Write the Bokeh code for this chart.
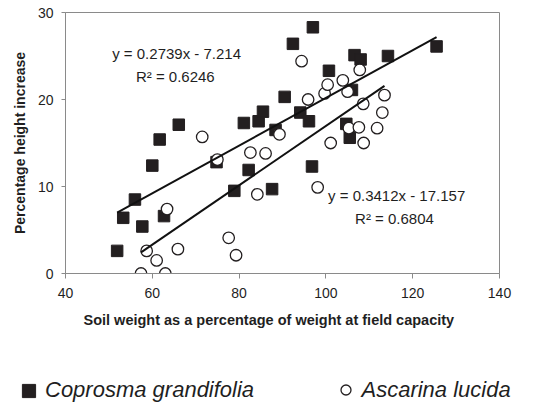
from bokeh.plotting import figure
from bokeh.models import Range1d, Label, Legend, LegendItem, FixedTicker, Title
from bokeh.embed import file_html
from bokeh.resources import INLINE

# ---- data ----
cop_x = [51.9, 53.3, 56.0, 57.7, 60.0, 61.7, 62.7, 66.1, 74.8, 78.9,
         81.1, 82.2, 84.5, 85.5, 87.6, 88.4, 90.5, 92.4, 94.1, 96.1,
         96.8, 97.0, 100.7, 104.7, 105.5, 106.0, 106.6, 108.0, 114.3, 125.5]
cop_y = [2.6, 6.4, 8.5, 5.4, 12.4, 15.4, 6.6, 17.1, 12.8, 9.5,
         17.3, 11.9, 17.5, 18.6, 9.7, 16.5, 20.3, 26.4, 18.5, 17.5,
         12.3, 28.3, 23.3, 17.2, 15.6, 21.1, 25.1, 24.6, 25.0, 26.1]

asc_x = [57.4, 58.7, 61.0, 63.0, 63.4, 65.9, 71.5, 75.0, 77.6, 79.3,
         82.6, 84.2, 86.1, 89.3, 94.4, 95.9, 98.1, 99.7, 100.4, 101.1,
         103.9, 105.0, 105.3, 107.6, 107.8, 108.6, 108.7, 111.8, 113.0, 113.5]
asc_y = [0.0, 2.6, 1.5, 0.0, 7.4, 2.8, 15.7, 13.1, 4.1, 2.1,
         13.9, 9.1, 13.8, 16.0, 24.4, 20.0, 9.9, 20.7, 21.7, 15.0,
         22.2, 20.9, 16.7, 16.8, 23.4, 19.5, 15.0, 16.7, 18.5, 20.5]

series_names = ["Coprosma grandifolia", "Ascarina lucida"]
fit_slope = [0.2739, 0.3412]
fit_intercept = [-7.214, -17.157]
eq_labels = ["y = 0.2739x - 7.214", "y = 0.3412x - 17.157"]
r2_labels = ["R\u00b2 = 0.6246", "R\u00b2 = 0.6804"]
x_ticks = [40, 60, 80, 100, 120, 140]
y_ticks = [0, 10, 20, 30]
x_title = "Soil weight as a percentage of weight at field capacity"
y_title = "Percentage height increase"

FONT = "Liberation Sans"
TXT = "#1f1f1f"
GRAY = "#8a8a8a"
MARK = "#231f20"

p = figure(width=546, height=345, output_backend="svg", toolbar_location=None,
           x_range=Range1d(40, 140), y_range=Range1d(0, 30),
           min_border_left=65, min_border_right=47, min_border_top=12,
           min_border_bottom=72)

p.xgrid.visible = False
p.ygrid.visible = False
p.outline_line_color = GRAY
p.outline_line_width = 1

for ax in (p.xaxis, p.yaxis):
    ax.axis_line_color = GRAY
    ax.major_tick_line_color = GRAY
    ax.minor_tick_line_color = None
    ax.major_tick_in = 0
    ax.major_label_text_font = FONT
    ax.major_label_text_font_size = "14px"
    ax.major_label_text_color = TXT

p.xaxis.ticker = FixedTicker(ticks=x_ticks)
p.yaxis.ticker = FixedTicker(ticks=y_ticks)
p.xaxis.major_tick_out = 5
p.yaxis.major_tick_out = 4
p.xaxis.major_label_standoff = 9
p.yaxis.major_label_standoff = 8

# axis titles (as side titles so they can sit slightly off-centre like the original)
p.add_layout(Title(text=x_title, align="left", offset=18, standoff=18,
                   text_font=FONT, text_font_size="14.5px", text_font_style="bold",
                   text_color=TXT), "below")
p.add_layout(Title(text=y_title, align="center", offset=4, standoff=14,
                   text_font=FONT, text_font_size="14px", text_font_style="bold",
                   text_color=TXT), "left")

p.scatter(cop_x, cop_y, marker="square", size=11.5, fill_color=MARK, line_color=MARK)
p.scatter(asc_x, asc_y, marker="circle", size=11.5,
          fill_color="white", line_color=MARK, line_width=1.3)

# trend lines over each series' x extent
for xs, m, b in ((cop_x, fit_slope[0], fit_intercept[0]),
                 (asc_x, fit_slope[1], fit_intercept[1])):
    x0, x1 = min(xs), max(xs)
    p.line([x0, x1], [m * x0 + b, m * x1 + b], line_color="#111111", line_width=2)

# equation labels
eq_pos = [(65.6, 25.3, 65.3, 22.6), (116.3, 9.0, 115.8, 6.3)]
for (ex, ey, rx, ry), eq, r2 in zip(eq_pos, eq_labels, r2_labels):
    p.add_layout(Label(x=ex, y=ey, text=eq, text_align="center", text_baseline="middle",
                       text_font=FONT, text_font_size="15px", text_color=TXT))
    p.add_layout(Label(x=rx, y=ry, text=r2, text_align="center", text_baseline="middle",
                       text_font=FONT, text_font_size="15px", text_color=TXT))

# ---- legend strip below the chart (its view range excludes the data) ----
pl = figure(width=546, height=58, output_backend="svg", toolbar_location=None,
            x_range=Range1d(0, 1), y_range=Range1d(0, 1),
            x_axis_location=None, y_axis_location=None,
            min_border_left=0, min_border_right=0, min_border_top=0, min_border_bottom=0)
pl.grid.visible = False
pl.outline_line_color = None
l_sq = pl.scatter(cop_x, cop_y, marker="square", fill_color=MARK, line_color=MARK)
l_ci = pl.scatter(asc_x, asc_y, marker="circle", fill_color="white", line_color=MARK,
                  line_width=1.3)

common = dict(padding=0, margin=0, border_line_color=None, background_fill_alpha=0,
              label_text_font=FONT, label_text_font_size="22px",
              label_text_font_style="italic", label_text_color=TXT)
leg1 = Legend(items=[LegendItem(label=series_names[0], renderers=[l_sq], index=0)],
              location=(12, -3.5), glyph_width=33, glyph_height=33, label_height=33,
              label_standoff=-1, **common)
leg2 = Legend(items=[LegendItem(label=series_names[1], renderers=[l_ci], index=0)],
              location=(332.5, 0.5), glyph_width=25, glyph_height=25, label_height=25,
              label_standoff=4, **common)
pl.add_layout(leg1)
pl.add_layout(leg2)

open("out.html", "w").write(file_html([p, pl], INLINE))
